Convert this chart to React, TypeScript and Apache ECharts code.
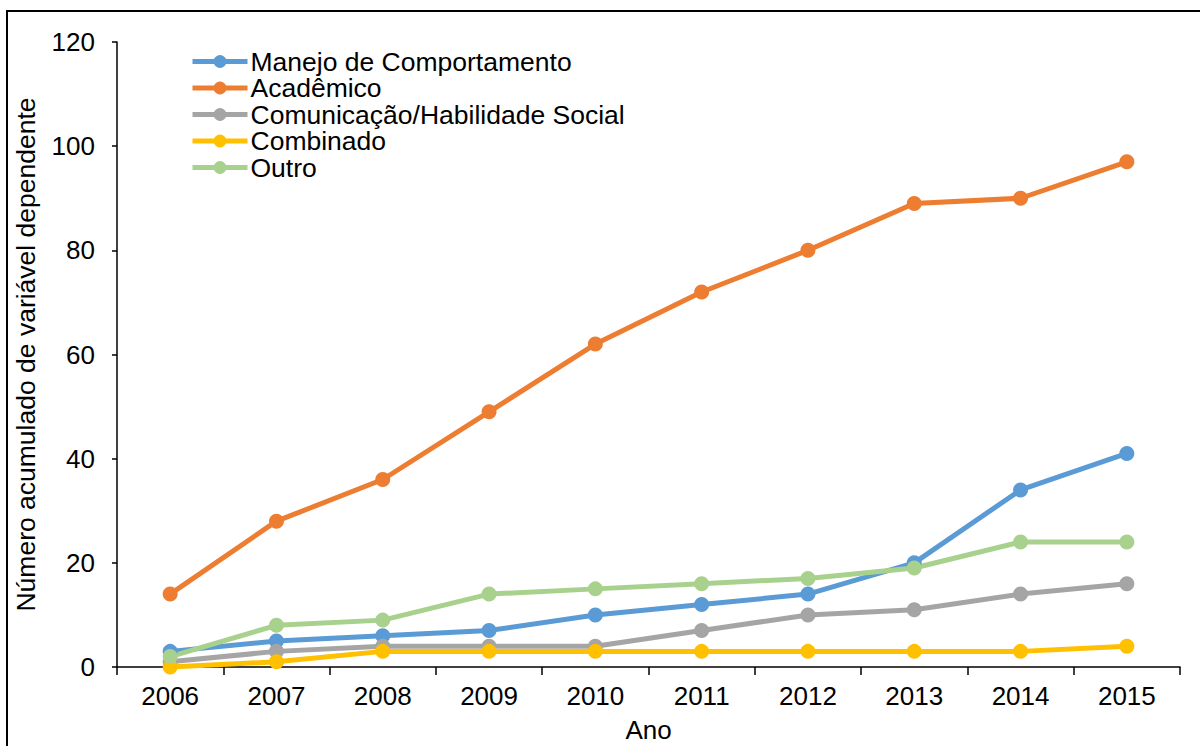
import React, { useEffect, useRef } from "react";
import * as echarts from "echarts";

const years = ["2006", "2007", "2008", "2009", "2010", "2011", "2012", "2013", "2014", "2015"];
const manejo = [3, 5, 6, 7, 10, 12, 14, 20, 34, 41];
const academico = [14, 28, 36, 49, 62, 72, 80, 89, 90, 97];
const comunicacao = [1, 3, 4, 4, 4, 7, 10, 11, 14, 16];
const combinado = [0, 1, 3, 3, 3, 3, 3, 3, 3, 4];
const outro = [2, 8, 9, 14, 15, 16, 17, 19, 24, 24];

const seriesDefs = [
  { name: "Manejo de Comportamento", data: manejo, color: "#5B9BD5" },
  { name: "Acadêmico", data: academico, color: "#ED7D31" },
  { name: "Comunicação/Habilidade Social", data: comunicacao, color: "#A5A5A5" },
  { name: "Combinado", data: combinado, color: "#FFC000" },
  { name: "Outro", data: outro, color: "#A9D18E" },
];

const FONT = "'Liberation Sans', Arial, sans-serif";

export default function App() {
  const ref = useRef<HTMLDivElement>(null);
  useEffect(() => {
    if (!ref.current) return;
    const chart = echarts.init(ref.current, null, { renderer: "svg" });
    chart.setOption({
      animation: false,
      backgroundColor: "#ffffff",
      textStyle: { fontFamily: FONT },
      graphic: [
        {
          type: "rect",
          shape: { x: 7, y: 11, width: 1300, height: 900 },
          style: { fill: "none", stroke: "#000", lineWidth: 2 },
          silent: true,
        },
      ],
      grid: {
        left: 117,
        right: 20,
        top: 42,
        bottom: 79,
        containLabel: false,
        outerBoundsMode: "none",
      },
      legend: {
        orient: "vertical",
        left: 185,
        top: 43,
        itemWidth: 55,
        itemHeight: 16,
        itemGap: -0.5,
        lineStyle: { width: 5 },
        textStyle: { fontSize: 26.5, fontFamily: FONT, color: "#000", lineHeight: 25, padding: [0, 0, 0, -2] },
        data: seriesDefs.map((s) => s.name),
      },
      xAxis: {
        type: "category",
        data: years,
        boundaryGap: true,
        name: "Ano",
        nameLocation: "middle",
        nameGap: 50,
        nameTextStyle: { fontSize: 26, color: "#000", fontFamily: FONT },
        axisLine: { lineStyle: { color: "#000", width: 1.5 } },
        axisTick: { show: true, length: 8, lineStyle: { color: "#000", width: 1.5 } },
        axisLabel: { fontSize: 26, color: "#000", margin: 16, fontFamily: FONT },
      },
      yAxis: {
        type: "value",
        min: 0,
        max: 120,
        interval: 20,
        name: "Número acumulado de variável dependente",
        nameLocation: "middle",
        nameGap: 78,
        nameTextStyle: { fontSize: 26.5, color: "#000", fontFamily: FONT },
        axisLine: { show: true, lineStyle: { color: "#000", width: 1.5 } },
        axisTick: { show: true, length: 5, lineStyle: { color: "#000", width: 1.5 } },
        axisLabel: { fontSize: 26, color: "#000", margin: 22, fontFamily: FONT },
        splitLine: { show: false },
      },
      series: seriesDefs.map((s) => ({
        name: s.name,
        type: "line",
        data: s.data,
        symbol: "circle",
        symbolSize: 15,
        itemStyle: { color: s.color },
        lineStyle: { color: s.color, width: 5 },
        emphasis: { disabled: true },
      })),
    });
    return () => chart.dispose();
  }, []);
  return (
    <div
      ref={ref}
      style={{ position: "absolute", left: 0, top: 0, width: 1200, height: 746 }}
    />
  );
}
